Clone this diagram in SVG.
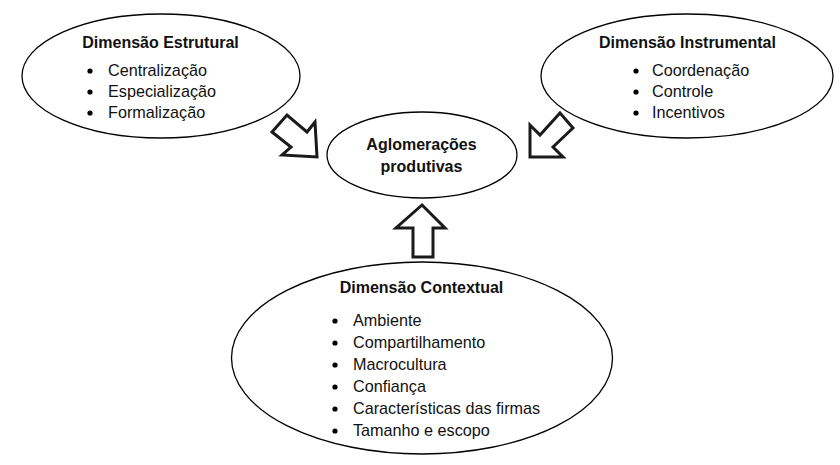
<svg xmlns="http://www.w3.org/2000/svg" width="840" height="465" viewBox="0 0 840 465">
<style>
.node{fill:#fff;stroke:#000;stroke-width:1.3}
.arrow{fill:#fff;stroke:#1a1a1a;stroke-width:3;stroke-linejoin:miter}
text{font-family:"Liberation Sans",Arial,sans-serif;font-size:16.2px;fill:#111}
.t{font-weight:bold;font-size:16px}
.c{text-anchor:middle}
</style>
<rect width="840" height="465" fill="#fff"/>
<g id="connectors">
<polygon class="arrow" points="272,132 287,115 307,132 315,122 317,157 282,155 291,147"/>
<polygon class="arrow" points="573,128 560,113 540,135 530,125 530,157 563,157 553,147"/>
<polygon class="arrow" points="422,205 396,228 413,228 413,257 433,257 433,228 445,228"/>
</g>
<g id="estrutural">
<ellipse class="node" cx="161" cy="76" rx="139" ry="62"/>
<text class="t c" x="160.5" y="48">Dimensão Estrutural</text>
<circle cx="90" cy="71" r="2.6"/><text x="108" y="76">Centralização</text>
<circle cx="90" cy="92" r="2.6"/><text x="108" y="97">Especialização</text>
<circle cx="90" cy="113" r="2.6"/><text x="108" y="118">Formalização</text>
</g>
<g id="instrumental">
<ellipse class="node" cx="687" cy="76" rx="146" ry="62"/>
<text class="t c" x="687.5" y="48">Dimensão Instrumental</text>
<circle cx="636" cy="71" r="2.6"/><text x="652" y="76">Coordenação</text>
<circle cx="636" cy="92" r="2.6"/><text x="652" y="97">Controle</text>
<circle cx="636" cy="113" r="2.6"/><text x="652" y="118">Incentivos</text>
</g>
<g id="aglomeracoes">
<ellipse class="node" cx="422" cy="155" rx="95" ry="43"/>
<text class="t c" x="421.5" y="150">Aglomerações</text>
<text class="t c" x="421.5" y="172">produtivas</text>
</g>
<g id="contextual">
<ellipse class="node" cx="422" cy="358" rx="190.5" ry="96"/>
<text class="t c" x="421.5" y="293">Dimensão Contextual</text>
<circle cx="335" cy="321" r="2.6"/><text x="353" y="326">Ambiente</text>
<circle cx="335" cy="343" r="2.6"/><text x="353" y="348">Compartilhamento</text>
<circle cx="335" cy="365" r="2.6"/><text x="353" y="370">Macrocultura</text>
<circle cx="335" cy="387" r="2.6"/><text x="353" y="392">Confiança</text>
<circle cx="335" cy="409" r="2.6"/><text x="353" y="414">Características das firmas</text>
<circle cx="335" cy="431" r="2.6"/><text x="353" y="436">Tamanho e escopo</text>
</g>
</svg>
